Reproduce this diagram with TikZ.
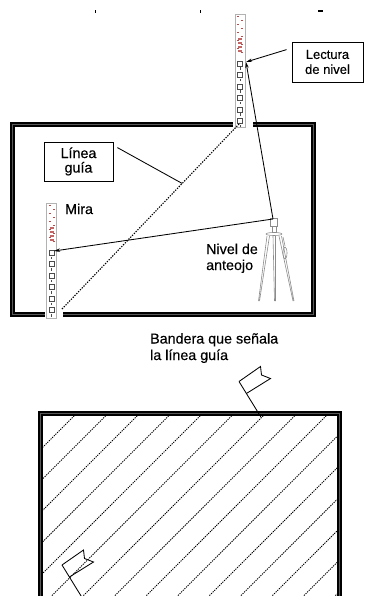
\documentclass[tikz,border=0pt]{standalone}
\usepackage{fontspec}
\setmainfont{Liberation Sans}[FakeBold=0.35]
\usetikzlibrary{arrows.meta,calc}

% a levelling rod: left x, top y, bottom y
\newcommand\drawlevelrod[3]{%
  \fill[white] (#1,#2) rectangle (#1+10,#3);
  \draw[black!30, line width=0.4pt] (#1,#2) rectangle (#1+10,#3);
  \foreach \k in {0,...,9}
    \fill[red!60!black!70] ({#1+2+mod(\k,2)*4},{#2+2+\k*4}) rectangle ++(2,1.4);
  \foreach \k in {0,...,3}
    \fill[red!60!black!60] (#1+3,{#2+24+\k*4}) rectangle ++(4,2);
  \foreach \k in {0,...,5} {
    \draw[black!70, line width=0.5pt] ({#1+2.5},{#2+47+\k*11.5}) rectangle ++(5,5);
    \fill[black!70] ({#1+4.5},{#2+53.5+\k*11.5}) rectangle ++(1,2.5);
  }
}

\begin{document}
\begin{tikzpicture}[x=1pt, y=-1pt,
  wall/.style={line width=1.7pt, double=black!65, double distance=1.8pt},
  lbl/.style={inner sep=0pt, font=\fontsize{14.3}{16}\selectfont},
  tag/.style={draw, line width=0.8pt, inner sep=0pt, align=center},
  ray/.style={line width=0.85pt, -{Stealth[length=6pt,width=3.5pt]}},
  lead/.style={line width=0.85pt},
  guide/.style={line width=1.1pt, dash pattern=on 1.3pt off 1.3pt},
  hatch/.style={line width=0.8pt, dash pattern=on 1.3pt off 1pt},
  tripod/.style={draw=black!45, line width=0.6pt},
  flagline/.style={line width=0.85pt, line join=miter},
  pics/flag/.style={code={
    \draw[flagline] (0,0) -- (21.5,-15) -- (22.5,-6.5) -- (31.5,-3) -- (7.4,12);
    \draw[flagline] (0,0) -- (22,35.7);
  }}]
\useasboundingbox (0,0) rectangle (364,596);

% fragments of a cut-off line of text along the top
\fill (94.5,10) rectangle (95.8,13.5);
\fill (199.5,10) rectangle (200.8,13.5);
\fill (318,10.5) rectangle (323,12);

% ---------- upper plan: room with level, rods and guide line ----------
\draw[wall] (233,124.5) -- (12.5,124.5) -- (12.5,314.5) -- (45,314.5);
\draw[wall] (63,314.5) -- (313.5,314.5) -- (313.5,124.5) -- (253,124.5);

\drawlevelrod{235}{14}{127}
\drawlevelrod{46.5}{203}{318}

\coordinate (guidebot) at (62,309);
\coordinate (guidetop) at (240,123);
\draw[guide] (guidebot) -- (guidetop);

% surveyor's level on its tripod
\coordinate (eye) at (273,219);
\draw[tripod] (270.5,218) rectangle (277.5,226);
\draw[tripod] (272,226) rectangle (276,232);
\draw[tripod] (274,234) ellipse (8 and 1.5);
\draw[tripod] (267,236) -- (258.5,301) (269.5,236) -- (259.5,301);
\draw[tripod] (273,236) -- (274.5,301) (275.5,236) -- (275.5,301);
\draw[tripod] (279,236) -- (293,301) (281.5,236) -- (294,301);
\draw[tripod] (283,237) -- (285,246);
\draw[tripod] (285,253) ellipse (2 and 6);

\coordinate (readtop) at (246,62);
\coordinate (readleft) at (54,251);
\draw[ray] (eye) -- (readtop);
\draw[ray] (eye) -- (readleft);

\node[tag, minimum width=71pt, minimum height=40pt,
      font=\fontsize{13}{15}\selectfont] (lectura) at (327.5,62)
  {Lectura\\de nivel};
\draw[ray] ([xshift=-5pt,yshift=-8pt]lectura.north west) -- (readtop);

\node[tag, minimum width=69pt, minimum height=39pt,
      font=\fontsize{14.3}{14.5}\selectfont] (guia) at (78.5,161.5)
  {Línea\\guía};
\draw[lead] ([xshift=4pt,yshift=-6pt]guia.north east) -- ($(guidebot)!0.675!(guidetop)$);

\node[lbl, anchor=base west] (mira) at (65,214) {Mira};
\node[lbl, anchor=base west, align=left] (nivel) at (206,270) {Nivel de\\anteojo};

% ---------- lower plan: area staked out with guide lines ----------
\begin{scope}
  \clip (43,416) rectangle (337,596);
  \foreach \k in {-7,...,14}
    \draw[hatch] ({74+31.5*\k+10},406) -- ({74+31.5*\k-200},616);
\end{scope}
\draw[wall] (40.5,620) -- (40.5,413.5) -- (339.5,413.5) -- (339.5,620);

\pic at (239,381.5) {flag};
\pic at (62,565) {flag};

\node[lbl, anchor=base west, align=left, font=\fontsize{14.3}{16.5}\selectfont]
  (bandera) at (150,360) {Bandera que señala\\la línea guía};
\end{tikzpicture}
\end{document}
